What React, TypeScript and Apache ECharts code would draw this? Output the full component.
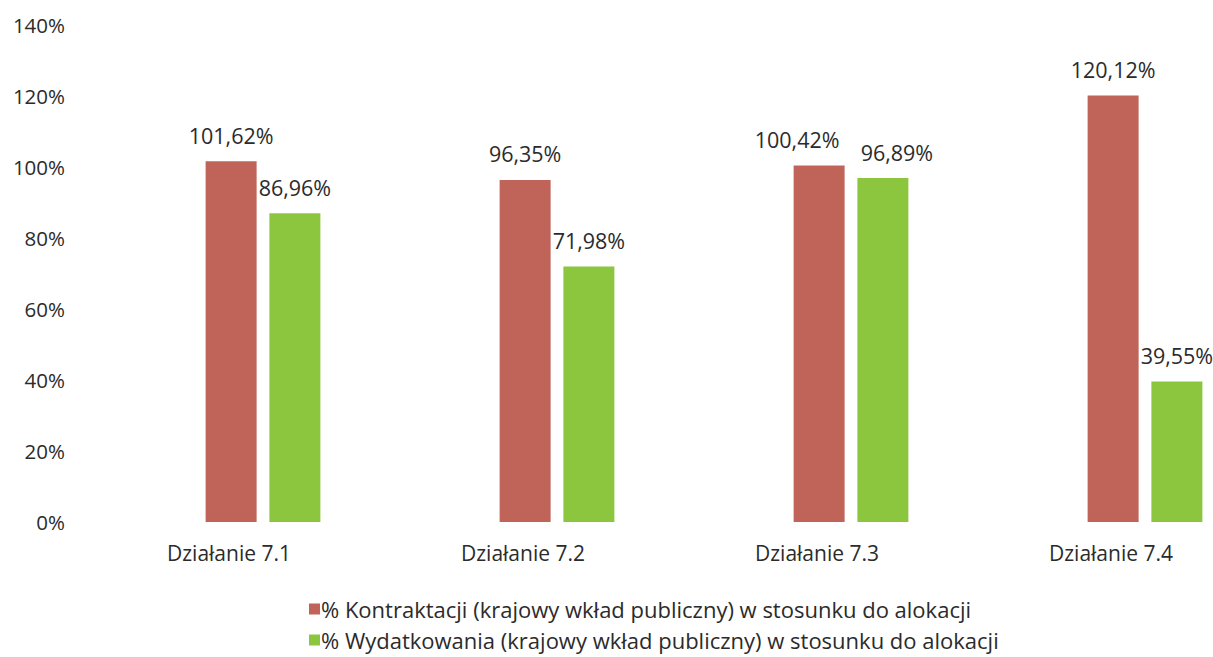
import React, { useEffect, useRef } from "react";
import * as echarts from "echarts";

const categories = ["Działanie 7.1", "Działanie 7.2", "Działanie 7.3", "Działanie 7.4"];
const seriesNames = [
  "% Kontraktacji (krajowy wkład publiczny) w stosunku do alokacji",
  "% Wydatkowania (krajowy wkład publiczny) w stosunku do alokacji",
];
const kontraktacja = [101.62, 96.35, 100.42, 120.12];
const wydatkowanie = [86.96, 71.98, 96.89, 39.55];
const colors = ["#C0645A", "#8CC63F"];

// label shifts used in the reference where two labels would collide
const kontraktacjaLabelShift = [0, 0, -22, 0];
const wydatkowanieLabelShift = [0, 0, 14, 0];

const FONT = "Open Sans";
const TEXT = "#2b2b2b";

const fmt = (v: number) => v.toFixed(2).replace(".", ",") + "%";

export default function App() {
  const ref = useRef<HTMLDivElement>(null);
  useEffect(() => {
    if (!ref.current) return;
    const chart = echarts.init(ref.current, undefined, { renderer: "svg" });
    const label = {
      show: true,
      position: "top" as const,
      distance: 15,
      fontFamily: FONT,
      fontSize: 21.5,
      color: TEXT,
      formatter: (p: any) => fmt(p.value),
    };
    const withShift = (vals: number[], shifts: number[]) =>
      vals.map((v, i) => ({ value: v, label: { offset: [shifts[i], 0] } }));
    const legendBase = {
      orient: "horizontal" as const,
      left: 304,
      itemWidth: 11,
      itemHeight: 11,
      icon: "rect",
      textStyle: { fontFamily: FONT, fontSize: 22, color: TEXT, padding: [0, 0, 0, -4] },
    };
    chart.setOption({
      animation: false,
      backgroundColor: "#ffffff",
      textStyle: { fontFamily: FONT },
      grid: { left: 116, top: 25, width: 1176, height: 497, containLabel: false },
      legend: [
        { ...legendBase, top: 593, data: [seriesNames[0]] },
        { ...legendBase, top: 624, data: [seriesNames[1]] },
      ],
      xAxis: {
        type: "category",
        data: categories,
        axisLine: { show: false },
        axisTick: { show: false },
        axisLabel: {
          fontFamily: FONT,
          fontSize: 21,
          color: TEXT,
          margin: 20,
          padding: [0, 68, 0, 0],
        },
      },
      yAxis: {
        type: "value",
        min: 0,
        max: 140,
        interval: 20,
        axisLine: { show: false },
        axisTick: { show: false },
        splitLine: { show: false },
        axisLabel: {
          fontFamily: FONT,
          fontSize: 20.5,
          color: TEXT,
          margin: 51,
          formatter: (v: number) => v + "%",
        },
      },
      series: [
        {
          name: seriesNames[0],
          type: "bar",
          data: withShift(kontraktacja, kontraktacjaLabelShift),
          barWidth: 51,
          barGap: "25%",
          itemStyle: { color: colors[0] },
          label,
        },
        {
          name: seriesNames[1],
          type: "bar",
          data: withShift(wydatkowanie, wydatkowanieLabelShift),
          barWidth: 51,
          barGap: "25%",
          itemStyle: { color: colors[1] },
          label,
        },
      ],
    });
    return () => chart.dispose();
  }, []);
  return (
    <div
      style={{
        position: "fixed",
        left: 0,
        top: 0,
        width: 1213,
        height: 657,
        overflow: "hidden",
        background: "#fff",
      }}
    >
      <div ref={ref} style={{ width: 1320, height: 657 }} />
    </div>
  );
}
